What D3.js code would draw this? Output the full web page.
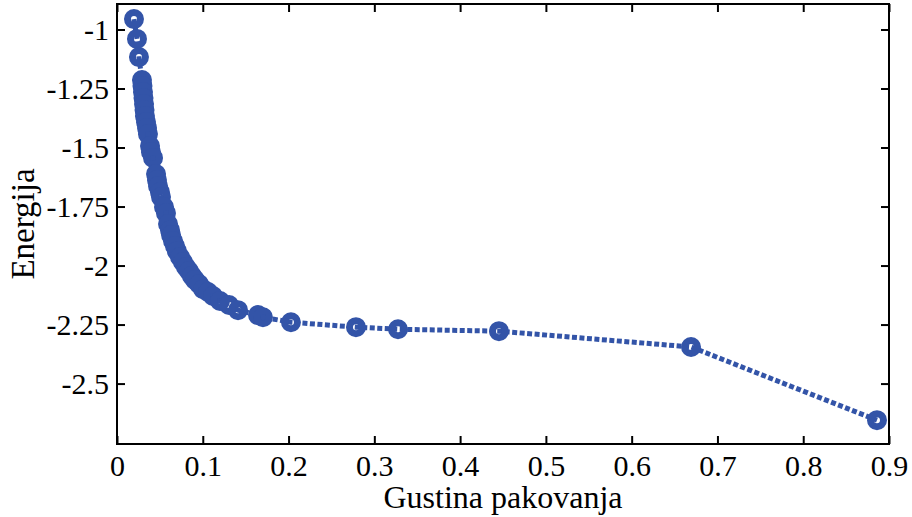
<!DOCTYPE html>
<html>
<head>
    <meta charset="UTF-8">
    <title>Energija</title>
    <script src="https://cdn.jsdelivr.net/npm/d3@7"></script>
    <style>
        body { margin: 0; background: #fff; }
        text { font-family: "Liberation Serif", serif; fill: #000; }
    </style>
</head>
<body>
<div id="chart"></div>
<script>
    // gustina pakovanja (x) i energija (y)
    const gustina = [0.0198, 0.0233, 0.0256, 0.0291, 0.0297, 0.0303, 0.0309, 0.0315, 0.0321, 0.0326,
        0.0338, 0.0350, 0.0361, 0.0385, 0.0396, 0.0420, 0.0455, 0.0466, 0.0478, 0.0501,
        0.0513, 0.0548, 0.0571, 0.0595, 0.0618, 0.0630, 0.0653, 0.0676, 0.0699, 0.0734,
        0.0769, 0.0804, 0.0839, 0.0874, 0.0909, 0.0956, 0.1003, 0.1061, 0.1119, 0.1201,
        0.1306, 0.1411, 0.1644, 0.1702, 0.2028, 0.2786, 0.3276, 0.4453, 0.6692, 0.8860];
    const energija = [-0.956, -1.040, -1.117, -1.214, -1.239, -1.265, -1.290, -1.316, -1.341, -1.367,
        -1.392, -1.417, -1.443, -1.494, -1.519, -1.544, -1.612, -1.638, -1.663, -1.689,
        -1.710, -1.752, -1.778, -1.824, -1.850, -1.871, -1.896, -1.917, -1.939, -1.964,
        -1.985, -2.006, -2.023, -2.044, -2.061, -2.078, -2.100, -2.112, -2.129, -2.150,
        -2.167, -2.189, -2.210, -2.219, -2.240, -2.261, -2.270, -2.278, -2.345, -2.655];
    const xTicks = [0, 0.1, 0.2, 0.3, 0.4, 0.5, 0.6, 0.7, 0.8, 0.9];
    const yTicks = [-1, -1.25, -1.5, -1.75, -2, -2.25, -2.5];

    const width = 912, height = 517;
    const margin = {top: 4, right: 23, bottom: 73, left: 117};
    const color = "#3354a8";

    const svg = d3.select("#chart").append("svg")
        .attr("width", width)
        .attr("height", height);

    const x = d3.scaleLinear().domain([0, 0.9]).range([margin.left, width - margin.right]);
    const y = d3.scaleLinear().domain([-2.756, -0.892]).range([height - margin.bottom, margin.top]);

    const data = gustina.map((g, i) => ({x: g, y: energija[i]}));

    // linija
    svg.append("path")
        .datum(data)
        .attr("fill", "none")
        .attr("stroke", color)
        .attr("stroke-width", 5)
        .attr("stroke-dasharray", "5,2.5")
        .attr("d", d3.line().x(d => x(d.x)).y(d => y(d.y)));

    // markeri
    svg.append("g")
        .selectAll("circle")
        .data(data)
        .join("circle")
        .attr("cx", d => x(d.x))
        .attr("cy", d => y(d.y))
        .attr("r", 6.5)
        .attr("fill", "none")
        .attr("stroke", color)
        .attr("stroke-width", 7);

    // okvir i podeoci (obicna crtica umesto minusa)
    const fmt = d => String(d);
    const tick = 8;
    const axisX = svg.append("g")
        .attr("transform", `translate(0,${height - margin.bottom})`)
        .call(d3.axisBottom(x).tickValues(xTicks).tickSizeInner(-tick).tickSizeOuter(0)
            .tickFormat(fmt).tickPadding(11));
    const axisXTop = svg.append("g")
        .attr("transform", `translate(0,${margin.top})`)
        .call(d3.axisTop(x).tickValues(xTicks).tickSizeInner(-tick).tickSizeOuter(0).tickFormat(""));
    const axisY = svg.append("g")
        .attr("transform", `translate(${margin.left},0)`)
        .call(d3.axisLeft(y).tickValues(yTicks).tickSizeInner(-tick).tickSizeOuter(0)
            .tickFormat(fmt).tickPadding(8));
    const axisYRight = svg.append("g")
        .attr("transform", `translate(${width - margin.right},0)`)
        .call(d3.axisRight(y).tickValues(yTicks).tickSizeInner(-tick).tickSizeOuter(0).tickFormat(""));

    [axisX, axisXTop, axisY, axisYRight].forEach(a => {
        a.select(".domain").remove();
        a.selectAll("line").attr("stroke", "#000").attr("stroke-width", 2);
        a.selectAll("text").attr("font-size", 30).attr("font-family", "Liberation Serif");
    });

    svg.append("rect")
        .attr("x", margin.left)
        .attr("y", margin.top)
        .attr("width", width - margin.left - margin.right)
        .attr("height", height - margin.top - margin.bottom)
        .attr("fill", "none")
        .attr("stroke", "#000")
        .attr("stroke-width", 2);

    svg.append("text")
        .attr("x", (margin.left + width - margin.right) / 2)
        .attr("y", 508)
        .attr("text-anchor", "middle")
        .attr("font-size", 32)
        .text("Gustina pakovanja");

    svg.append("text")
        .attr("transform", `translate(34,${(margin.top + height - margin.bottom) / 2}) rotate(-90)`)
        .attr("text-anchor", "middle")
        .attr("font-size", 33)
        .text("Energija");
</script>
</body>
</html>
